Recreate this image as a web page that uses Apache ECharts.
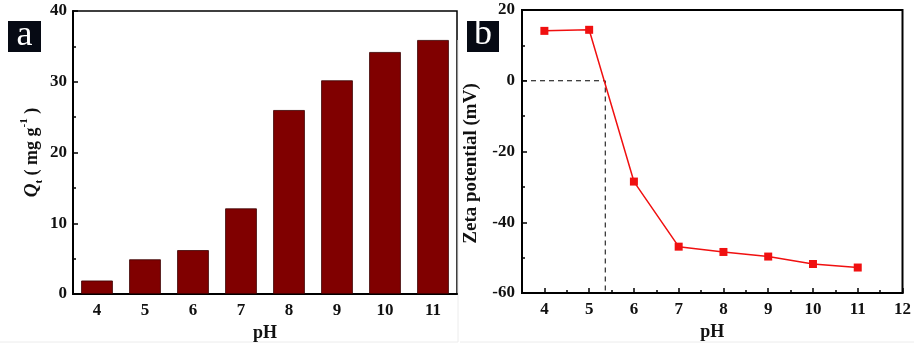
<!DOCTYPE html>
<html>
<head>
<meta charset="utf-8">
<script src="https://cdn.jsdelivr.net/npm/echarts@6/dist/echarts.min.js"></script>
<style>
html,body{margin:0;padding:0;background:#fff;}
#c{width:914px;height:347px;}
</style>
</head>
<body>
<div id="c"></div>
<script>
// Panel a data
const phCategories = ['4', '5', '6', '7', '8', '9', '10', '11'];
const qtValues = [1.9, 4.9, 6.2, 12.1, 26.0, 30.2, 34.2, 35.9];
// Panel b data
const phValues = [4, 5, 6, 7, 8, 9, 10, 11];
const zetaValues = [14.1, 14.4, -28.5, -46.9, -48.4, -49.7, -51.8, -52.8];
const iepLine = [[3.5, 0], [5.36, 0], [5.36, -60]];
const xMajorTicks = [4, 5, 6, 7, 8, 9, 10, 11, 12];

const FF = 'Liberation Serif';
const labelStyle = { fontFamily: FF, fontWeight: 'bold', fontSize: 17, color: '#111' };
const nameStyle = { fontFamily: FF, fontWeight: 'bold', fontSize: 18, color: '#111' };
const axisLine = { show: true, onZero: false, lineStyle: { color: '#000', width: 2 } };

const chart = echarts.init(document.getElementById('c'), null, { renderer: 'canvas' });

chart.setOption({
  backgroundColor: '#fff',
  animation: false,
  grid: [
    { left: 73, top: 11, right: 457, bottom: 53, show: true, borderColor: '#000', borderWidth: 1.5, backgroundColor: 'transparent' },
    { left: 522, top: 10, right: 8, bottom: 54, show: true, borderColor: '#000', borderWidth: 2, backgroundColor: 'transparent' }
  ],
  xAxis: [
    {
      gridIndex: 0, type: 'category', data: phCategories,
      name: 'pH', nameLocation: 'middle', nameGap: 28, nameTextStyle: nameStyle,
      axisLine: axisLine,
      axisTick: { show: true, inside: true, alignWithLabel: true, length: 5, lineStyle: { color: '#000', width: 1.5 } },
      axisLabel: Object.assign({ margin: 8 }, labelStyle),
      splitLine: { show: false }
    },
    {
      gridIndex: 1, type: 'value', min: 3.5, max: 12,
      name: 'pH', nameLocation: 'middle', nameGap: 28, nameTextStyle: nameStyle,
      axisLine: axisLine,
      axisTick: { show: true, inside: true, length: 5, customValues: xMajorTicks, lineStyle: { color: '#000', width: 1.5 } },
      axisLabel: Object.assign({ margin: 8, customValues: xMajorTicks }, labelStyle),
      splitLine: { show: false }
    },
    {
      gridIndex: 1, type: 'value', min: 3.5, max: 12, interval: 0.5, position: 'bottom',
      axisLine: { show: false, onZero: false },
      axisTick: { show: true, inside: true, length: 3, lineStyle: { color: '#000', width: 1.5 } },
      axisLabel: { show: false },
      splitLine: { show: false }
    }
  ],
  yAxis: [
    {
      gridIndex: 0, type: 'value', min: 0, max: 40, interval: 10,
      name: '{q|Q}{sub|t}{n| ( mg g}{sup|-1}{n| )}', nameLocation: 'middle', nameGap: 28,
      nameTextStyle: {
        fontFamily: FF, fontWeight: 'bold', fontSize: 18, color: '#111',
        rich: {
          q: { fontFamily: FF, fontWeight: 'bold', fontStyle: 'italic', fontSize: 19, color: '#111' },
          sub: { fontFamily: FF, fontWeight: 'bold', fontSize: 11, color: '#111', verticalAlign: 'bottom', lineHeight: 15 },
          sup: { fontFamily: FF, fontWeight: 'bold', fontSize: 11, color: '#111', verticalAlign: 'top', lineHeight: 26 },
          n: { fontFamily: FF, fontWeight: 'bold', fontSize: 18, color: '#111' }
        }
      },
      axisLine: axisLine,
      axisTick: { show: true, inside: true, length: 5, lineStyle: { color: '#000', width: 1.5 } },
      minorTick: { show: true, splitNumber: 2, length: 3, lineStyle: { color: '#000', width: 1.5 } },
      axisLabel: Object.assign({ margin: 6 }, labelStyle),
      splitLine: { show: false }
    },
    {
      gridIndex: 1, type: 'value', min: -60, max: 20, interval: 20,
      name: 'Zeta potential (mV)', nameLocation: 'middle', nameGap: 41,
      nameTextStyle: { fontFamily: FF, fontWeight: 'bold', fontSize: 19, color: '#111', padding: [0, 24, 0, 0] },
      axisLine: axisLine,
      axisTick: { show: true, inside: true, length: 5, lineStyle: { color: '#000', width: 1.5 } },
      minorTick: { show: true, splitNumber: 2, length: 3, lineStyle: { color: '#000', width: 1.5 } },
      axisLabel: Object.assign({ margin: 7 }, labelStyle),
      splitLine: { show: false }
    }
  ],
  series: [
    {
      type: 'bar', xAxisIndex: 0, yAxisIndex: 0, data: qtValues,
      barWidth: '66%',
      itemStyle: { color: '#800000', borderColor: '#3a0000', borderWidth: 0.8 }
    },
    {
      type: 'line', xAxisIndex: 1, yAxisIndex: 1,
      data: iepLine, symbol: 'none',
      lineStyle: { color: '#000', width: 1, type: [5, 4] },
      z: 1
    },
    {
      type: 'line', xAxisIndex: 1, yAxisIndex: 1,
      data: phValues.map((p, i) => [p, zetaValues[i]]),
      symbol: 'rect', symbolSize: 8,
      lineStyle: { color: '#f01010', width: 1.5 },
      itemStyle: { color: '#f01010' },
      z: 3
    }
  ],
  graphic: [
    { type: 'line', shape: { x1: 0, y1: 342, x2: 458, y2: 342 }, style: { stroke: '#ececec', lineWidth: 1 } },
    { type: 'line', shape: { x1: 458, y1: 40, x2: 458, y2: 342 }, style: { stroke: '#ececec', lineWidth: 1 } },
    { type: 'line', shape: { x1: 460, y1: 342, x2: 914, y2: 342 }, style: { stroke: '#ececec', lineWidth: 1 } },
    { type: 'rect', shape: { x: 8, y: 21, width: 33, height: 31 }, style: { fill: '#060a14' } },
    { type: 'text', x: 24.5, y: 36, style: { text: 'a', fill: '#fff', font: '36px "Liberation Serif"', textAlign: 'center', textVerticalAlign: 'middle' } },
    { type: 'rect', shape: { x: 467, y: 21, width: 32, height: 31 }, style: { fill: '#060a14' } },
    { type: 'text', x: 483, y: 35, style: { text: 'b', fill: '#fff', font: '36px "Liberation Serif"', textAlign: 'center', textVerticalAlign: 'middle' } }
  ]
});
</script>
</body>
</html>
